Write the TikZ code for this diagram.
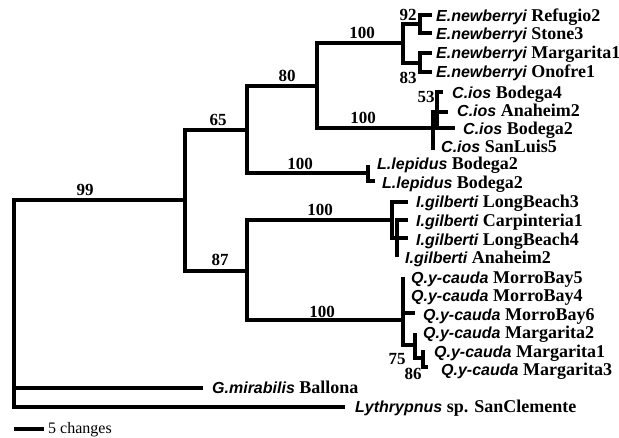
\documentclass[tikz,border=0pt]{standalone}
\usepackage{fontspec}
\setmainfont{Liberation Serif}
\newfontfamily\genfont{Liberation Sans}
\newcommand{\gn}[1]{{\genfont\bfseries\itshape\fontsize{16}{16}\selectfont #1}}
\begin{document}
\begin{tikzpicture}[x=1pt,y=-1pt,
  br/.style={line width=3.2pt},
  tip/.style={anchor=base west,inner sep=0pt,font=\fontsize{18}{18}\selectfont\bfseries},
  sup/.style={inner sep=0pt,font=\fontsize{17}{17}\selectfont\bfseries}]
\useasboundingbox (0,0) rectangle (619,437);
% internal nodes
\coordinate (root) at (14,300);
\coordinate (A) at (185,200);
\coordinate (B) at (247,130);
\coordinate (C) at (317,86);
\coordinate (D) at (403,43);
\coordinate (E92) at (420,24);
\coordinate (E83) at (420,63);
\coordinate (F) at (433,128);
\coordinate (F53) at (437,112);
\coordinate (G) at (368,173);
\coordinate (H) at (247,271);
\coordinate (I) at (392,220);
\coordinate (J) at (397,238);
\coordinate (K) at (403,320);
\coordinate (L75) at (415,345);
\coordinate (M86) at (423,358);
% tips
\coordinate (t1) at (432,15);
\coordinate (t2) at (432,33);
\coordinate (t3) at (432,53);
\coordinate (t4) at (432,72);
\coordinate (t5) at (443,92);
\coordinate (t6) at (448,112);
\coordinate (t7) at (455,128);
\coordinate (t8) at (433,150);
\coordinate (t9) at (368,165);
\coordinate (t10) at (375,181);
\coordinate (t11) at (408,202);
\coordinate (t12) at (408,220);
\coordinate (t13) at (408,238);
\coordinate (t14) at (397,257);
\coordinate (t15) at (403,277);
\coordinate (t16) at (403,296);
\coordinate (t17) at (415,313);
\coordinate (t18) at (415,333);
\coordinate (t19) at (423,350);
\coordinate (t20) at (428,367);
\coordinate (t21) at (203,388);
\coordinate (t22) at (345,407);
% branches
\draw[br] (root) |- (A);
\draw[br] (root) |- (t21);
\draw[br] (root) |- (t22);
\draw[br] (A) |- (B);
\draw[br] (A) |- (H);
\draw[br] (B) |- (C);
\draw[br] (B) |- (G);
\draw[br] (C) |- (D);
\draw[br] (C) |- (F);
\draw[br] (D) |- (E92);
\draw[br] (D) |- (E83);
\draw[br] (E92) |- (t1);
\draw[br] (E92) |- (t2);
\draw[br] (E83) |- (t3);
\draw[br] (E83) |- (t4);
\draw[br] (F) |- (F53);
\draw[br] (F) |- (t8);
\draw[br] (F53) |- (t5);
\draw[br] (F53) |- (t6);
\draw[br] (F53) |- (t7);
\draw[br] (G) |- (t9);
\draw[br] (G) |- (t10);
\draw[br] (H) |- (I);
\draw[br] (H) |- (K);
\draw[br] (I) |- (t11);
\draw[br] (I) |- (J);
\draw[br] (J) |- (t12);
\draw[br] (J) |- (t13);
\draw[br] (J) |- (t14);
\draw[br] (K) |- (t15);
\draw[br] (K) |- (t16);
\draw[br] (K) |- (t17);
\draw[br] (K) |- (L75);
\draw[br] (L75) |- (t18);
\draw[br] (L75) |- (M86);
\draw[br] (M86) |- (t19);
\draw[br] (M86) |- (t20);
% tip labels
\node[tip] (n1) at (436,21) {\gn{E.newberryi} Refugio2};
\node[tip] (n2) at (436,39) {\gn{E.newberryi} Stone3};
\node[tip] (n3) at (436,58) {\gn{E.newberryi} Margarita1};
\node[tip] (n4) at (436,77) {\gn{E.newberryi} Onofre1};
\node[tip] (n5) at (452,98) {\gn{C.ios} Bodega4};
\node[tip] (n6) at (457,116) {\gn{C.ios} Anaheim2};
\node[tip] (n7) at (463,134) {\gn{C.ios} Bodega2};
\node[tip] (n8) at (441,152) {\gn{C.ios} SanLuis5};
\node[tip] (n9) at (377,169) {\gn{L.lepidus} Bodega2};
\node[tip] (n10) at (382,188) {\gn{L.lepidus} Bodega2};
\node[tip] (n11) at (416,207) {\gn{I.gilberti} LongBeach3};
\node[tip] (n12) at (416,226) {\gn{I.gilberti} Carpinteria1};
\node[tip] (n13) at (416,245) {\gn{I.gilberti} LongBeach4};
\node[tip] (n14) at (405,263) {\gn{I.gilberti} Anaheim2};
\node[tip] (n15) at (411,283) {\gn{Q.y-cauda} MorroBay5};
\node[tip] (n16) at (411,301) {\gn{Q.y-cauda} MorroBay4};
\node[tip] (n17) at (423,320) {\gn{Q.y-cauda} MorroBay6};
\node[tip] (n18) at (423,338) {\gn{Q.y-cauda} Margarita2};
\node[tip] (n19) at (434,357) {\gn{Q.y-cauda} Margarita1};
\node[tip] (n20) at (441,375) {\gn{Q.y-cauda} Margarita3};
\node[tip] (n21) at (212,393) {\gn{G.mirabilis} Ballona};
\node[tip] (n22) at (355,412) {\gn{Lythrypnus} sp. SanClemente};
% support values
\node[sup] (s99) at (85,190) {99};
\node[sup] (s65) at (218,120) {65};
\node[sup] (s80) at (287,76) {80};
\node[sup] (s100a) at (362,33) {100};
\node[sup] (s100b) at (363,118) {100};
\node[sup] (s100c) at (300,164) {100};
\node[sup] (s87) at (220,260) {87};
\node[sup] (s100d) at (320,210) {100};
\node[sup] (s100e) at (322,312) {100};
\node[sup] (s92) at (408,15) {92};
\node[sup] (s83) at (408,78) {83};
\node[sup] (s53) at (426,97) {53};
\node[sup] (s75) at (397,359) {75};
\node[sup] (s86) at (413,374) {86};
% scale bar
\coordinate (sb1) at (14,429);
\coordinate (sb2) at (44,429);
\draw[br] (sb1) -- (sb2);
\node[anchor=base west,inner sep=0pt,font=\fontsize{16}{16}\selectfont] (sbl) at (48,433) {5 changes};
\end{tikzpicture}
\end{document}
